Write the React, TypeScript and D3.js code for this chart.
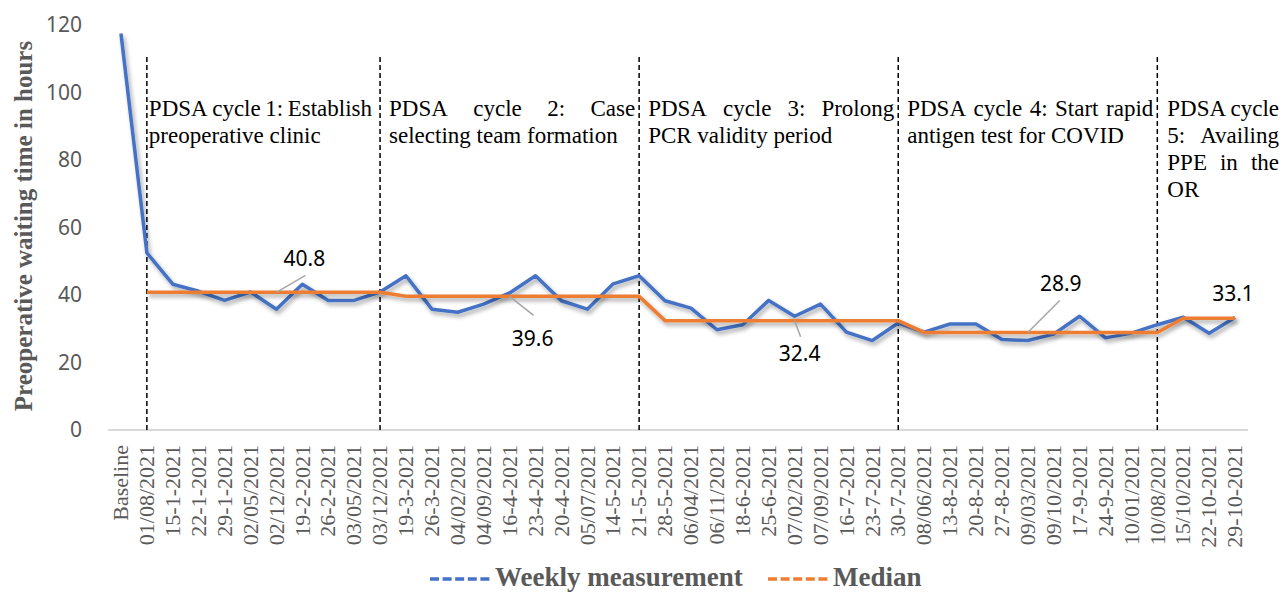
import React, { useEffect, useRef } from 'react';
import { select, scaleBand, scaleLinear, axisLeft, axisBottom, line } from 'd3';

// x categories (weeks)
const categories = [
  'Baseline', '01/08/2021', '15-1-2021', '22-1-2021', '29-1-2021', '02/05/2021', '02/12/2021',
  '19-2-2021', '26-2-2021', '03/05/2021', '03/12/2021', '19-3-2021', '26-3-2021', '04/02/2021',
  '04/09/2021', '16-4-2021', '23-4-2021', '20-4-2021', '05/07/2021', '14-5-2021', '21-5-2021',
  '28-5-2021', '06/04/2021', '06/11/2021', '18-6-2021', '25-6-2021', '07/02/2021', '07/09/2021',
  '16-7-2021', '23-7-2021', '30-7-2021', '08/06/2021', '13-8-2021', '20-8-2021', '27-8-2021',
  '09/03/2021', '09/10/2021', '17-9-2021', '24-9-2021', '10/01/2021', '10/08/2021', '15/10/2021',
  '22-10-2021', '29-10-2021',
];

const weekly = [
  117.5, 52.5, 43.2, 41.1, 38.4, 40.9, 35.8, 43.2, 38.4, 38.4, 40.9,
  45.7, 35.8, 34.9, 37.3, 40.6, 45.7, 38.3, 35.8, 43.3, 45.7,
  38.3, 36.1, 29.7, 31.2, 38.4, 33.7, 37.3, 29.0, 26.5, 31.7,
  29.0, 31.4, 31.4, 26.8, 26.5, 28.4, 33.7, 27.3, 28.7, 31.2,
  33.4, 28.7, 33.3,
];

const median: (number | null)[] = [
  null,
  40.8, 40.8, 40.8, 40.8, 40.8, 40.8, 40.8, 40.8, 40.8, 40.8,
  39.6, 39.6, 39.6, 39.6, 39.6, 39.6, 39.6, 39.6, 39.6, 39.6,
  32.4, 32.4, 32.4, 32.4, 32.4, 32.4, 32.4, 32.4, 32.4, 32.4,
  28.9, 28.9, 28.9, 28.9, 28.9, 28.9, 28.9, 28.9, 28.9, 28.9,
  33.1, 33.1, 33.1,
];

// start index of each PDSA cycle and its text lines
const cycleStarts = [1, 10, 20, 30, 40];
const cycleTexts = [
  ['PDSA cycle 1: Establish', 'preoperative clinic'],
  ['PDSA cycle 2: Case', 'selecting team formation'],
  ['PDSA cycle 3: Prolong', 'PCR validity period'],
  ['PDSA cycle 4: Start rapid', 'antigen test for COVID'],
  ['PDSA cycle', '5: Availing', 'PPE in the', 'OR'],
];
// text box padding from the separator on each side
const cyclePadLeft = [2, 9, 9, 9, 10];
const cyclePadRight = [8, 4, 4, 4, 0];

// median labels: index of the point they point at, plus label offset
const medianLabels = [
  { idx: 6, lx: 29, ly: -17, tx: 28, ty: -26 },
  { idx: 15, lx: 24, ly: 19, tx: 23, ty: 50 },
  { idx: 26, lx: 6, ly: 16, tx: 5, ty: 40 },
  { idx: 35, lx: 32, ly: -32, tx: 33, ty: -41 },
  { idx: 43, lx: 0, ly: 0, tx: -2, ty: -17 },
];

const yTicks = [0, 20, 40, 60, 80, 100, 120];

const BLUE = '#4472C4';
const ORANGE = '#ED7D31';
const GREY = '#595959';
const SERIF = '"Liberation Serif", "Times New Roman", serif';
const SANS = '"Noto Sans", "Liberation Sans", sans-serif';

const App = () => {
  const svgRef = useRef(null);

  useEffect(() => {
    const svg = select(svgRef.current);
    svg.selectAll('*').remove();

    const x = scaleBand().domain(categories).range([108, 1248]);
    const cx = (i: number) => (x(categories[i]) as number) + x.bandwidth() / 2;
    const y = scaleLinear().domain([0, 120]).range([430, 25]);

    const defs = svg.append('defs');
    const f = defs.append('filter').attr('id', 'shadow').attr('x', '-5%').attr('y', '-20%').attr('width', '110%').attr('height', '140%');
    f.append('feDropShadow').attr('dx', 2).attr('dy', 3).attr('stdDeviation', 2)
      .attr('flood-color', '#000').attr('flood-opacity', 0.35);

    // y axis labels
    const ya = svg.append('g').attr('transform', 'translate(82,0)')
      .call(axisLeft(y).tickValues(yTicks).tickSize(0).tickPadding(0));
    ya.select('.domain').remove();
    ya.attr('font-family', SANS);
    ya.selectAll('text').attr('font-size', 21).attr('fill', GREY);

    // x axis
    svg.append('line').attr('x1', 108).attr('x2', 1248).attr('y1', 430).attr('y2', 430)
      .attr('stroke', '#d9d9d9').attr('stroke-width', 2);
    const xa = svg.append('g').attr('transform', 'translate(0,430)')
      .call(axisBottom(x).tickSize(0).tickPadding(0));
    xa.select('.domain').remove();
    xa.attr('font-family', SERIF);
    xa.selectAll('text')
      .attr('font-size', 22).attr('fill', GREY)
      .attr('transform', 'rotate(-90)').attr('text-anchor', 'end')
      .attr('x', -15).attr('y', 0).attr('dy', '0.33em');

    // y axis title
    svg.append('text')
      .attr('transform', 'translate(32,226) rotate(-90)')
      .attr('text-anchor', 'middle')
      .attr('font-family', SERIF).attr('font-weight', 'bold').attr('font-size', 25).attr('fill', GREY)
      .text('Preoperative waiting time in hours');

    // cycle separators
    cycleStarts.forEach((s) => {
      svg.append('line').attr('x1', cx(s)).attr('x2', cx(s)).attr('y1', 57).attr('y2', 430)
        .attr('stroke', '#000').attr('stroke-width', 1.5).attr('stroke-dasharray', '5,3');
    });

    // cycle texts, justified
    cycleTexts.forEach((lines, ci) => {
      const left = cx(cycleStarts[ci]) + cyclePadLeft[ci];
      const right = ci < cycleStarts.length - 1 ? cx(cycleStarts[ci + 1]) - cyclePadRight[ci] : 1279;
      lines.forEach((ln, li) => {
        const by = 116 + li * 27;
        const words = ln.split(' ');
        const g = svg.append('g');
        const nodes = words.map((w) =>
          g.append('text').attr('x', left).attr('y', by).attr('font-family', SERIF)
            .attr('font-size', 23).attr('fill', '#000').text(w));
        if (li === lines.length - 1 || words.length === 1) {
          let px = left;
          nodes.forEach((n) => {
            n.attr('x', px);
            px += (n.node() as SVGTextElement).getComputedTextLength() + 23 * 0.25;
          });
        } else {
          const widths = nodes.map((n) => (n.node() as SVGTextElement).getComputedTextLength());
          const total = widths.reduce((a, b) => a + b, 0);
          const gap = (right - left - total) / (words.length - 1);
          let px = left;
          nodes.forEach((n, k) => {
            n.attr('x', px);
            px += widths[k] + gap;
          });
        }
      });
    });

    // series
    const wLine = line<number>().x((_, i) => cx(i)).y((d) => y(d));
    svg.append('path').datum(weekly).attr('d', wLine).attr('fill', 'none')
      .attr('stroke', BLUE).attr('stroke-width', 3.5).attr('stroke-linejoin', 'round')
      .attr('filter', 'url(#shadow)');

    const mLine = line<number | null>().defined((d) => d !== null).x((_, i) => cx(i)).y((d) => y(d as number));
    svg.append('path').datum(median).attr('d', mLine).attr('fill', 'none')
      .attr('stroke', ORANGE).attr('stroke-width', 3.5).attr('stroke-linejoin', 'round')
      .attr('filter', 'url(#shadow)');

    // median labels
    medianLabels.forEach((m) => {
      const v = median[m.idx] as number;
      const px = cx(m.idx);
      const py = y(v);
      if (m.lx !== 0 || m.ly !== 0) {
        svg.append('line').attr('x1', px).attr('y1', py).attr('x2', px + m.lx).attr('y2', py + m.ly)
          .attr('stroke', '#a6a6a6').attr('stroke-width', 1.5);
      }
      svg.append('text').attr('x', px + m.tx).attr('y', py + m.ty).attr('text-anchor', 'middle')
        .attr('font-family', SANS).attr('font-size', 21).attr('fill', '#000').text(String(v));
    });

    // legend
    const legend = [
      { name: 'Weekly measurement', color: BLUE, x: 430 },
      { name: 'Median', color: ORANGE, x: 768 },
    ];
    legend.forEach((l) => {
      svg.append('line').attr('x1', l.x).attr('x2', l.x + 63).attr('y1', 579).attr('y2', 579)
        .attr('stroke', l.color).attr('stroke-width', 3.5).attr('stroke-dasharray', '9,3.6');
      svg.append('text').attr('x', l.x + 65).attr('y', 586)
        .attr('font-family', SERIF).attr('font-weight', 'bold').attr('font-size', 27).attr('fill', GREY)
        .text(l.name);
    });
  }, []);

  return (
    <svg ref={svgRef} width={1283} height={593}
      style={{ position: 'absolute', left: 0, top: 0, background: '#fff' }}></svg>
  );
};

export default App;
